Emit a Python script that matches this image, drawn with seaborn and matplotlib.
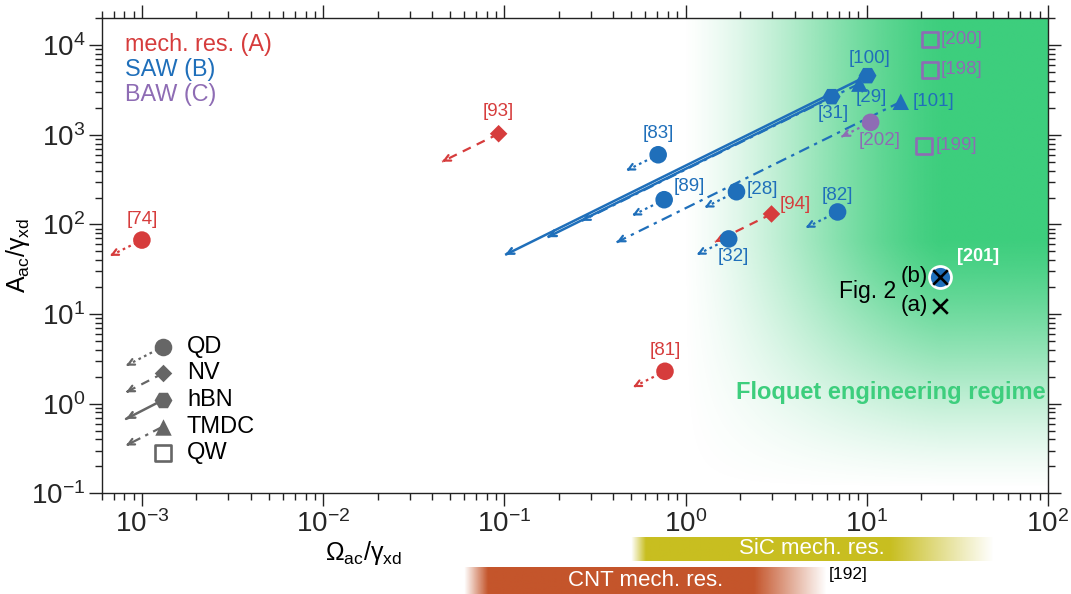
import numpy as np
import pandas as pd
import seaborn as sns
import matplotlib
matplotlib.use('Agg')
import matplotlib.pyplot as plt
from matplotlib.ticker import LogLocator, LogFormatterMathtext, NullFormatter

sns.set_theme(style='ticks')
plt.rcParams['font.family'] = ['Liberation Sans', 'DejaVu Sans']
plt.rcParams['mathtext.fontset'] = 'custom'
plt.rcParams['mathtext.rm'] = 'Liberation Sans'
plt.rcParams['mathtext.it'] = 'Liberation Sans:italic'
plt.rcParams['mathtext.bf'] = 'Liberation Sans:bold'
plt.rcParams['mathtext.default'] = 'regular'

# ---- data ----
refs = ['[74]', '[93]', '[81]', '[94]', '[83]', '[89]', '[28]', '[32]', '[82]',
        '[31]', '[100]', '[29]', '[101]', '[202]', '[200]', '[198]', '[199]']
omega = [1.0e-3, 0.093, 0.77, 2.98, 0.706, 0.762, 1.91, 1.73, 6.9,
         6.4, 10.1, 9.1, 15.4, 10.5, 22.2, 22.2, 20.8]
amp = [67, 1030, 2.3, 131, 600, 189, 232, 69, 138,
       2670, 4580, 3730, 2340, 1380, 11600, 5350, 757]
family = ['A', 'A', 'A', 'A', 'B', 'B', 'B', 'B', 'B',
          'B', 'B', 'B', 'B', 'C', 'C', 'C', 'C']
system = ['QD', 'NV', 'QD', 'NV', 'QD', 'QD', 'QD', 'QD', 'QD',
          'hBN', 'hBN', 'TMDC', 'TMDC', 'QD', 'QW', 'QW', 'QW']
# arrows point to (omega/f, amp/f)
reduction = [1.5, 2.05, 1.5, 2.05, 1.5, 1.5, 1.5, 1.5, 1.5,
             37, 100, 34, 37, 1.45, np.nan, np.nan, np.nan]

fig2_omega = 25.4
fig2_amp = [12.4, 26.1]
fig2_labels = ['(a)', '(b)']
ref201 = '[201]'

family_names = ['mech. res. (A)', 'SAW (B)', 'BAW (C)']
system_names = ['QD', 'NV', 'hBN', 'TMDC', 'QW']

bar_names = ['SiC mech. res.', 'CNT mech. res.']
bar_lo = [0.5, 0.06]
bar_hi = [50, 6]
bar_ref = '[192]'

# ---- style ----
fam_colors = {'A': '#d63c3c', 'B': '#1f6fba', 'C': '#8e6cb4'}
sys_markers = {'QD': 'o', 'NV': 'D', 'hBN': 'H', 'TMDC': '^', 'QW': 's'}
sys_sizes = {'QD': 160, 'NV': 80, 'hBN': 165, 'TMDC': 140, 'QW': 132}
sys_ls = {'QD': (0, (1.2, 1.6)), 'NV': (0, (4, 3)), 'hBN': '-',
          'TMDC': (0, (5, 2.5, 1.5, 2.5))}
sys_lw = {'QD': 1.6, 'NV': 1.6, 'hBN': 1.8, 'TMDC': 1.6}
green = np.array([61, 206, 125]) / 255

# label offsets in points (dx, dy, ha)
label_off = {
    '[74]': (0, 15, 'center'), '[93]': (0, 16, 'center'), '[81]': (0, 15, 'center'),
    '[94]': (6, 6.5, 'left'), '[83]': (0, 15, 'center'), '[89]': (6.5, 9.5, 'left'),
    '[28]': (7, 1.5, 'left'), '[32]': (3.5, -13, 'center'), '[82]': (0, 11.5, 'center'),
    '[31]': (1.5, -12, 'center'), '[100]': (1.5, 12, 'center'), '[29]': (8.5, -10, 'center'),
    '[101]': (8.5, 0, 'left'), '[202]': (6.5, -13, 'center'), '[200]': (8, 0, 'left'),
    '[198]': (8, 0, 'left'), '[199]': (8, 0, 'left'),
}

df = pd.DataFrame({'ref': refs, 'omega': omega, 'amp': amp, 'family': family,
                   'system': system, 'f': reduction})

xlim = (6e-4, 100)
ylim = (0.1, 2e4)

fig = plt.figure(figsize=(10.71, 5.94), dpi=100)
rect = [101.7 / 1071, 100.7 / 594, 946.3 / 1071, 475 / 594]

# background gradient: Floquet regime
bg = fig.add_axes(rect, zorder=0)
u = np.linspace(0, 1, 600)
v = np.linspace(1, 0, 400)
sx = np.clip((u - 0.615) / 0.27, 0, 1)
sx = 0.5 * sx + 0.5 * sx * sx * (3 - 2 * sx)
sy = np.clip((v - 0.01) / 0.52, 0, 1)
sy = 0.6 * sy + 0.4 * sy * sy * (3 - 2 * sy)
alpha = sy[:, None] * sx[None, :]
img = np.zeros((400, 600, 4))
img[..., :3] = green
img[..., 3] = alpha
bg.imshow(img, extent=(0, 1, 0, 1), aspect='auto', interpolation='bilinear')
bg.set_xlim(0, 1)
bg.set_ylim(0, 1)
bg.axis('off')

ax = fig.add_axes(rect, zorder=1)
ax.patch.set_alpha(0)
ax.set_xscale('log')
ax.set_yscale('log')
ax.set_xlim(*xlim)
ax.set_ylim(*ylim)

# arrows
def draw_arrow(x0, y0, f, color, ls, lw):
    x1, y1 = x0 / f, y0 / f
    ax.plot([x0, x1], [y0, y1], color=color, ls=ls, lw=lw, zorder=3,
            solid_capstyle='butt', dash_capstyle='butt')
    ax.annotate('', xy=(x1, y1), xytext=(x1 * 1.03, y1 * 1.03),
                arrowprops=dict(arrowstyle='->', color=color, lw=lw,
                                shrinkA=0, shrinkB=0, mutation_scale=11),
                zorder=3)

for _, r in df.iterrows():
    if np.isfinite(r['f']):
        draw_arrow(r['omega'], r['amp'], r['f'], fam_colors[r['family']],
                   sys_ls[r['system']], sys_lw[r['system']])

filled = df[df['system'] != 'QW']
sns.scatterplot(data=filled, x='omega', y='amp', hue='family', palette=fam_colors,
                style='system', markers=sys_markers, size='system', sizes=sys_sizes,
                linewidth=0, legend=False, zorder=5, ax=ax)
qw = df[df['system'] == 'QW']
ax.scatter(qw['omega'], qw['amp'], marker='s', s=sys_sizes['QW'], facecolors='none',
           edgecolors=fam_colors['C'], linewidths=1.9, zorder=5)

for _, r in df.iterrows():
    dx, dy, ha = label_off[r['ref']]
    ax.annotate(r['ref'], (r['omega'], r['amp']), xytext=(dx, dy),
                textcoords='offset points', ha=ha, va='center',
                fontsize=13.5, color=fam_colors[r['family']], zorder=6)

# Fig. 2 points and [201]
ax.scatter([fig2_omega], [fig2_amp[1]], marker='o', s=250, color=fam_colors['B'],
           edgecolors='white', linewidths=2, zorder=6)
ax.scatter([fig2_omega] * 2, fig2_amp, marker='x', s=110, color='black',
           linewidths=1.9, zorder=7)
for a, lab in zip(fig2_amp, fig2_labels):
    ax.annotate(lab, (fig2_omega, a), xytext=(-9, 0), textcoords='offset points',
                ha='right', va='center', fontsize=16, color='black', zorder=7)
ax.annotate('Fig. 2', (fig2_omega, np.sqrt(fig2_amp[0] * fig2_amp[1])),
            xytext=(-32, 0), textcoords='offset points', ha='right', va='center',
            fontsize=16.5, color='black', zorder=7)
ax.annotate(ref201, (fig2_omega, fig2_amp[1]), xytext=(12, 14.5),
            textcoords='offset points', ha='left', va='center', fontsize=13,
            fontweight='bold', color='white', zorder=7)

ax.text(0.997, 0.212, 'Floquet engineering regime', transform=ax.transAxes,
        ha='right', va='center', fontsize=17, fontweight='bold', color=green,
        zorder=6)

# family legend (top left)
for i, (name, key) in enumerate(zip(family_names, ['A', 'B', 'C'])):
    ax.text(0.0246, 0.944 - i * 0.0525, name, transform=ax.transAxes, ha='left',
            va='center', fontsize=16.8, color=fam_colors[key])

# system legend (bottom left)
gray = '#666666'
for i, name in enumerate(system_names):
    y = 0.3086 - i * 0.0560
    mk = sys_markers[name]
    if name == 'QW':
        ax.scatter([0.0648], [y], marker=mk, s=sys_sizes[name], facecolors='none',
                   edgecolors=gray, linewidths=1.9, transform=ax.transAxes, zorder=5)
    else:
        x1, y1 = 0.0257, y - 0.040
        ax.plot([0.0648, x1], [y, y1], color=gray, ls=sys_ls[name], lw=sys_lw[name],
                transform=ax.transAxes, zorder=3)
        ax.annotate('', xy=(x1, y1), xytext=(x1 + 0.002, y1 + 0.002),
                    xycoords='axes fraction',
                    arrowprops=dict(arrowstyle='->', color=gray, lw=sys_lw[name],
                                    shrinkA=0, shrinkB=0, mutation_scale=11))
        ax.scatter([0.0648], [y], marker=mk, s=sys_sizes[name], color=gray,
                   linewidths=0, transform=ax.transAxes, zorder=5)
    ax.text(0.0901, y, name, transform=ax.transAxes, ha='left', va='center',
            fontsize=17, color='black')

# axes styling
ax.set_xlim(*xlim)
ax.set_ylim(*ylim)
for axis in (ax.xaxis, ax.yaxis):
    axis.set_major_locator(LogLocator(base=10, numticks=20))
    axis.set_minor_locator(LogLocator(base=10, subs=np.arange(2, 10), numticks=20))
    axis.set_major_formatter(LogFormatterMathtext())
    axis.set_minor_formatter(NullFormatter())
ax.tick_params(which='both', direction='out', top=True, right=True,
               labeltop=False, labelright=False, color='#222222')
ax.tick_params(which='major', length=9.4, width=1.0, labelsize=20, pad=2.5)
ax.tick_params(which='minor', length=4.8, width=1.0)
for s in ax.spines.values():
    s.set_color('#222222')
    s.set_linewidth(1.0)

ax.set_xlabel('Ω$_{ac}$/γ$_{xd}$', fontsize=18, color='black')
ax.set_ylabel('A$_{ac}$/γ$_{xd}$', fontsize=18, color='black')
ax.xaxis.set_label_coords(0.277, -0.126)
ax.xaxis.label.set_va('center')
ax.yaxis.set_label_coords(-0.0885, 0.5)
ax.yaxis.label.set_va('center')

# bottom bars (range of mechanical resonators)
bax = fig.add_axes([rect[0], 0, rect[2], 57 / 594], zorder=2)
bax.set_xlim(np.log10(xlim[0]), np.log10(xlim[1]))
bax.set_ylim(0, 57)
bax.axis('off')
bar_colors = [np.array([200, 190, 32]) / 255, np.array([196, 85, 43]) / 255]
bar_rows = [(33, 57), (0, 27)]
bar_fade = [(0.04, 0.715), (0.065, 0.80)]
for name, lo, hi, col, (y0, y1), (fin, fout) in zip(bar_names, bar_lo, bar_hi,
                                                       bar_colors, bar_rows, bar_fade):
    t = np.linspace(0, 1, 400)
    a = np.clip(t / fin, 0, 1) * np.clip((1 - t) / (1 - fout), 0, 1)
    im = np.zeros((1, 400, 4))
    im[..., :3] = col
    im[..., 3] = a
    l0, l1 = np.log10(lo), np.log10(hi)
    bax.imshow(im, extent=(l0, l1, y0, y1), aspect='auto', interpolation='bilinear')
    bax.text((l0 + l1) / 2, (y0 + y1) / 2, name, ha='center', va='center',
             fontsize=16, color='white')
bax.set_xlim(np.log10(xlim[0]), np.log10(xlim[1]))
bax.set_ylim(0, 57)
bax.text(np.log10(bar_hi[1]) + 0.01, 20, bar_ref, ha='left', va='center',
         fontsize=12.5, color='black')

fig.savefig('out.png', dpi=100)
